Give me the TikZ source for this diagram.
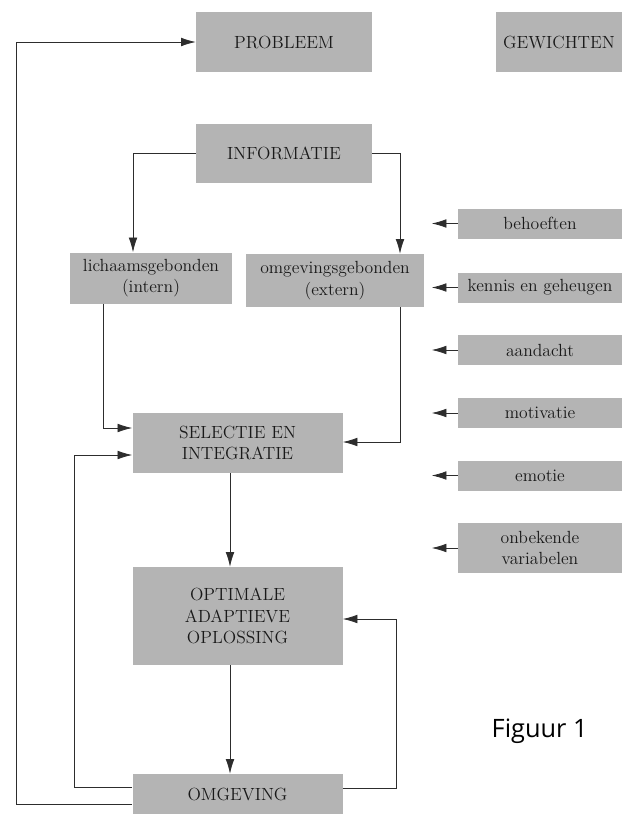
\documentclass[tikz,border=0pt]{standalone}
\usepackage{fontspec}
\usepackage{tikz}
\usetikzlibrary{arrows.meta}
\newfontfamily\figfont{Open Sans}
\definecolor{boxgray}{RGB}{180,180,180}
\definecolor{linegray}{RGB}{45,45,45}

\begin{document}
\begin{tikzpicture}[x=0.75pt,y=-0.75pt,
	box/.style={fill=boxgray,inner sep=0pt,align=center,text=black!90,font={\fontsize{13.2}{16}\selectfont\addfontfeatures{FakeBold=0.6}}},
	sidebox/.style={box,minimum width=164*0.75pt,minimum height=30*0.75pt},
	conn/.style={draw=linegray,line width=0.6pt,-{Latex[length=11pt,width=6.5pt]}}]
		\useasboundingbox (0,0) rectangle (631,814);
		\node[box,minimum width=176*0.75pt,minimum height=60*0.75pt] (prob) at (284,42) {PROBLEEM};
		\node[box,minimum width=126*0.75pt,minimum height=60*0.75pt] (gew) at (559,42) {GEWICHTEN};
		\node[box,minimum width=176*0.75pt,minimum height=59*0.75pt] (info) at (284,153.5) {INFORMATIE};
		\node[box,minimum width=162*0.75pt,minimum height=51*0.75pt] (lich) at (151,278) {lichaamsgebonden\\(intern)};
		\node[box,minimum width=178*0.75pt,minimum height=53*0.75pt] (omg) at (335,280.5) {omgevingsgebonden\\(extern)};
		\node[box,minimum width=210*0.75pt,minimum height=60*0.75pt] (sel) at (237.5,443) {SELECTIE EN\\INTEGRATIE};
		\node[box,minimum width=210*0.75pt,minimum height=98*0.75pt] (opt) at (237.5,616) {OPTIMALE\\ADAPTIEVE\\OPLOSSING};
		\node[box,minimum width=210*0.75pt,minimum height=40*0.75pt] (omgev) at (237.5,794) {OMGEVING};
		\node[sidebox] (beh) at (540,223.5) {behoeften};
		\node[sidebox] (ken) at (540,287.5) {kennis en geheugen};
		\node[sidebox] (aan) at (540,350) {aandacht};
		\node[sidebox] (mot) at (540,413) {motivatie};
		\node[sidebox] (emo) at (540,475.5) {emotie};
		\node[sidebox,minimum height=50*0.75pt] (onb) at (540,548) {onbekende\\variabelen};
		\node[anchor=base west,font={\figfont\fontsize{19}{22}\selectfont}] (fig) at (487,737) {Figuur 1};
		\coordinate (outer) at (16,804);
		\coordinate (inner) at (74,787);
		\coordinate (rloop) at (396,788);
		\draw[conn] (info.west) -| (lich.north -| 133,0);
		\draw[conn] (info.east) -| (omg.north -| 400,0);
		\draw[conn] (lich.south -| 103,0) |- (sel.west |- 0,428);
		\draw[conn] (omg.south -| 400,0) |- (sel.east |- 0,442);
		\draw[conn] (sel.south -| 230,0) -- (opt.north -| 230,0);
		\draw[conn] (opt.south -| 230,0) -- (omgev.north -| 230,0);
		\draw[conn] (omgev.east |- rloop) -- (rloop) |- (opt.east |- 0,619);
		\draw[conn] (omgev.west |- inner) -- (inner) |- (sel.west |- 0,455);
		\draw[conn] (omgev.west |- outer) -- (outer) |- (prob.west);
		\foreach \n in {beh,ken,aan,mot,emo,onb}
			\draw[conn] (\n.west) -- ++(-26,0);
\end{tikzpicture}
\end{document}
